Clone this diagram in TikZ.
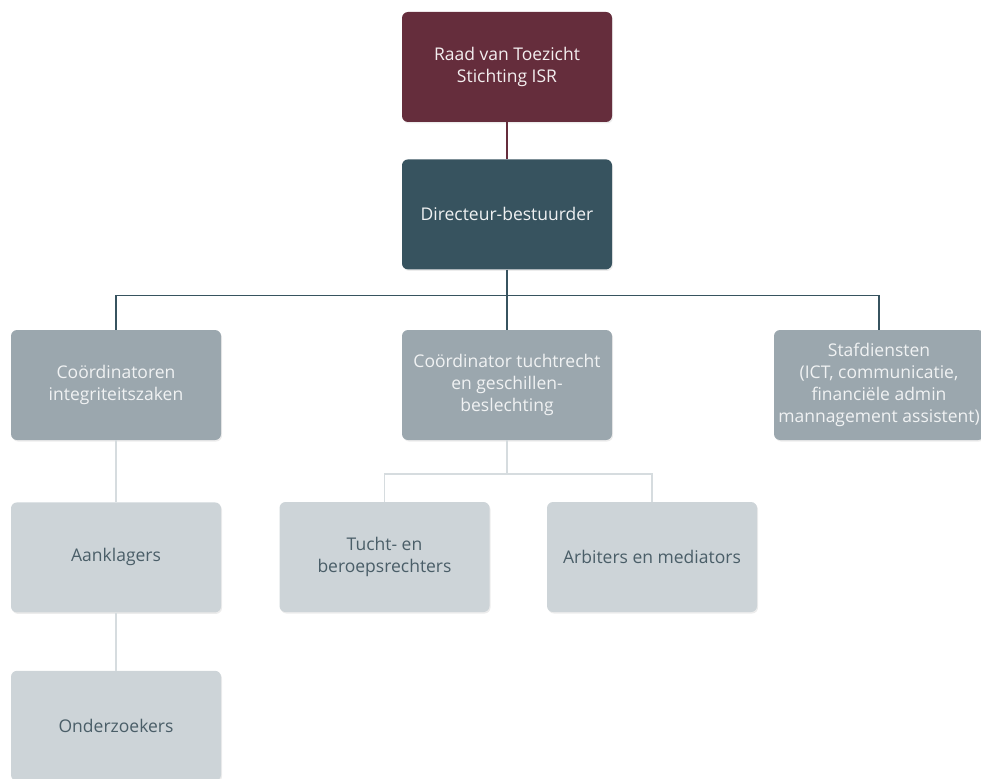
\documentclass[tikz,border=0pt]{standalone}
\usepackage{fontspec}
\setmainfont{Open Sans}
\usetikzlibrary{positioning, shadows}

\definecolor{raadred}{HTML}{652D3C}
\definecolor{dirblue}{HTML}{37535F}
\definecolor{midgray}{HTML}{9BA7AE}
\definecolor{lightgray}{HTML}{CDD4D8}
\definecolor{linegray}{HTML}{D6DCDF}
\definecolor{darktext}{HTML}{4A5E68}

\begin{document}
\begin{tikzpicture}[
        x=1pt, y=1pt,
        box/.style={rectangle, rounded corners=6pt, minimum width=210pt, minimum height=110pt,
            align=center, inner sep=0pt, font=\fontsize{17.5}{22}\selectfont,
            drop shadow={opacity=0.15, shadow xshift=1pt, shadow yshift=-1.5pt}},
        topbox/.style={box, fill=raadred, text=white!92!raadred},
        leadbox/.style={box, fill=dirblue, text=white!92!dirblue},
        coordbox/.style={box, fill=midgray, text=white!85!midgray},
        teambox/.style={box, fill=lightgray, text=darktext},
        link/.style={line width=1.5pt}
    ]
    \useasboundingbox (0,0) rectangle (981,-778);

    % nodes
    \node[topbox] (raad) at (507,-67) {Raad van Toezicht\\Stichting ISR};
    \node[leadbox, below=37pt of raad] (dir) {Directeur-bestuurder};
    \node[coordbox] (integr) at (116,-385) {Coördinatoren\\integriteitszaken};
    \node[coordbox] (tucht) at (507,-385) {Coördinator tuchtrecht\\en geschillen-\\beslechting};
    \node[coordbox] (staf) at (879,-385) {Stafdiensten\\(ICT, communicatie,\\financiële admin\\mannagement assistent)};
    \node[teambox, below=62pt of integr] (aankl) {Aanklagers};
    \node[teambox, below=58pt of aankl] (onderz) {Onderzoekers};
    \node[teambox] (rechters) at (384.5,-557) {Tucht- en\\beroepsrechters};
    \node[teambox] (arbiters) at (652,-557) {Arbiters en mediators};

    % connections
    \draw[link, raadred] (raad) -- (dir);
    \draw[link, dirblue] (dir.south) -- ++(0,-26) coordinate (split);
    \draw[link, dirblue] (split) -| (integr.north);
    \draw[link, dirblue] (split) -- (tucht.north);
    \draw[link, dirblue] (split) -| (staf.north);
    \draw[link, linegray] (integr) -- (aankl);
    \draw[link, linegray] (aankl) -- (onderz);
    \draw[link, linegray] (tucht.south) -- ++(0,-34) coordinate (fork);
    \draw[link, linegray] (fork) -| (rechters.north);
    \draw[link, linegray] (fork) -| (arbiters.north);

\end{tikzpicture}
\end{document}
